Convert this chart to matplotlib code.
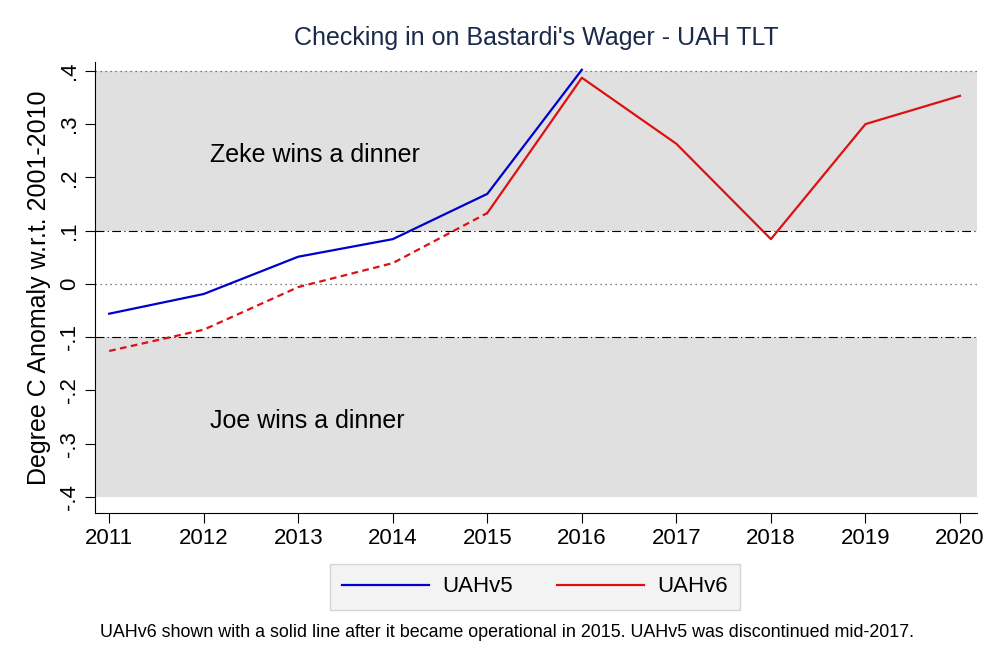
import numpy as np
import matplotlib
matplotlib.use('Agg')
import matplotlib.pyplot as plt

plt.rcParams['font.family'] = ['Liberation Sans', 'DejaVu Sans']

years = [2011, 2012, 2013, 2014, 2015, 2016, 2017, 2018, 2019, 2020]
# UAHv5 ends in 2016, UAHv6 runs the full span
v5_years = [2011, 2012, 2013, 2014, 2015, 2016]
v5 = [-0.056, -0.019, 0.051, 0.084, 0.169, 0.402]
v6 = [-0.126, -0.086, -0.006, 0.039, 0.133, 0.387, 0.263, 0.084, 0.300, 0.353]
v6_solid_from = 2015

yticks = [-0.4, -0.3, -0.2, -0.1, 0, 0.1, 0.2, 0.3, 0.4]
ylabels = ['-.4', '-.3', '-.2', '-.1', '0', '.1', '.2', '.3', '.4']

fig = plt.figure(figsize=(10, 6.67), dpi=100)
ax = fig.add_axes([0.095, 0.231, 0.882, 0.676])

ax.axhspan(0.1, 0.4, color='#e0e0e0', lw=0, zorder=0)
ax.axhspan(-0.4, -0.1, color='#e0e0e0', lw=0, zorder=0)
for yv in [0.1, -0.1]:
    ax.axhline(yv, color='black', lw=0.8, ls=(0, (8, 3, 1, 3)), zorder=1)
for yv in [0.4, 0]:
    ax.axhline(yv, color='#555555', lw=0.9, ls=(0, (1, 3)), zorder=1)

yrs = np.array(years)
v6a = np.array(v6)
dash = yrs <= v6_solid_from
solid = yrs >= v6_solid_from
ax.plot(yrs[dash], v6a[dash], color='#dd1111', lw=1.6, ls=(0, (3, 2)), zorder=3)
ax.plot(yrs[solid], v6a[solid], color='#dd1111', lw=1.6, zorder=3, label='UAHv6')
ax.plot(v5_years, v5, color='#0000cc', lw=1.6, zorder=4, label='UAHv5')

ax.text(2012.07, 0.242, 'Zeke wins a dinner', fontsize=18, va='center', ha='left')
ax.text(2012.07, -0.257, 'Joe wins a dinner', fontsize=18, va='center', ha='left')

ax.set_xlim(2010.85, 2020.18)
ax.set_ylim(-0.43, 0.4165)
ax.set_xticks(years)
ax.set_xticklabels([str(y) for y in years])
ax.set_yticks(yticks)
ax.set_yticklabels(ylabels, rotation=90, va='center')
ax.tick_params(axis='both', labelsize=16, length=7, width=0.8)
ax.set_ylabel('Degree C Anomaly w.r.t. 2001-2010', fontsize=18, labelpad=6)
for s in ['top', 'right']:
    ax.spines[s].set_visible(False)

ax.set_title("Checking in on Bastardi's Wager - UAH TLT", fontsize=18, color='#1a2a4a', pad=12)

h, l = ax.get_legend_handles_labels()
leg = fig.legend(h[::-1], l[::-1], loc='center', bbox_to_anchor=(0.535, 0.12), ncol=2,
                 fontsize=16, frameon=True, fancybox=False, handlelength=3.9,
                 handletextpad=0.6, columnspacing=2.0, borderpad=0.55)
leg.get_frame().set_facecolor('#f0f0f0')
leg.get_frame().set_edgecolor('#cccccc')

fig.text(0.507, 0.052, 'UAHv6 shown with a solid line after it became operational in 2015. '
         'UAHv5 was discontinued mid-2017.', ha='center', va='center', fontsize=12.9)

fig.savefig('out.png', dpi=100)
